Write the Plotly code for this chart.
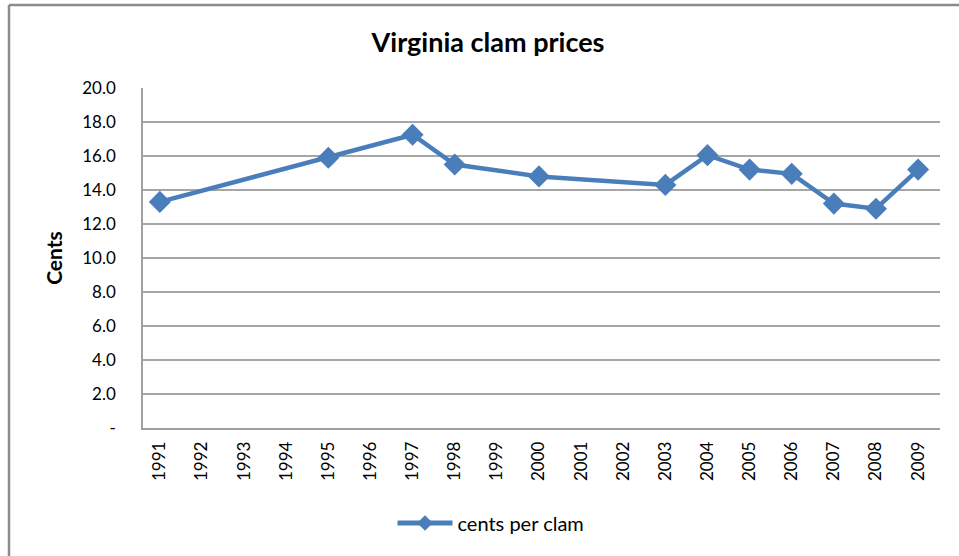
import plotly.graph_objects as go

years = [1991, 1995, 1997, 1998, 2000, 2003, 2004, 2005, 2006, 2007, 2008, 2009]
cents_per_clam = [13.3, 15.9, 17.25, 15.5, 14.8, 14.3, 16.05, 15.2, 14.95, 13.2, 12.9, 15.2]
year_ticks = list(range(1991, 2010))
y_ticks = [0, 2, 4, 6, 8, 10, 12, 14, 16, 18, 20]
y_tick_text = ["-"] + [f"{v:.1f}" for v in y_ticks[1:]]

W, H = 959, 556
L, R, T, B = 143, 19, 88, 128
pw, ph = W - L - R, H - T - B

def px(x):
    return (x - L) / pw

def py(y):
    return (H - B - y) / ph

FONT = "Lato, 'Open Sans', sans-serif"
BLUE = "#4A7EBB"

fig = go.Figure()
fig.add_trace(go.Scatter(
    x=years, y=cents_per_clam, mode="lines+markers", name="cents per clam",
    line=dict(color=BLUE, width=4.5),
    marker=dict(symbol="diamond", size=17, color=BLUE),
))

fig.update_layout(
    width=W, height=H,
    margin=dict(l=L, r=R, t=T, b=B),
    paper_bgcolor="white", plot_bgcolor="white",
    font=dict(family=FONT, color="black", size=17),
    title=dict(text="<b>Virginia clam prices</b>", x=px(488), xanchor="center", xref="paper",
               y=1 - 43 / H, yanchor="middle", font=dict(size=27, family=FONT)),
    showlegend=True,
    legend=dict(orientation="h", x=px(491), xanchor="center", y=py(523), yanchor="middle",
                font=dict(size=20), itemwidth=55, itemsizing="constant"),
    xaxis=dict(range=[1990.6, 2009.52], tickmode="array", tickvals=year_ticks,
               ticktext=[str(y) for y in year_ticks], tickangle=-90,
               showgrid=False, showline=True, linecolor="#A0A0A0", linewidth=1.5,
               ticks="", zeroline=False, tickfont=dict(size=17), ticklabelstandoff=5),
    yaxis=dict(range=[0, 20], tickmode="array", tickvals=y_ticks, ticktext=y_tick_text,
               showgrid=True, gridcolor="#A6A6A6", gridwidth=1.5,
               showline=True, linecolor="#A0A0A0", linewidth=1.5, ticks="",
               zeroline=False, tickfont=dict(size=17), ticklabelstandoff=22,
               title=dict(text="<b>Cents</b>", font=dict(size=21), standoff=14)),
)

fig.add_shape(type="line", xref="paper", yref="paper",
              x0=px(9), x1=px(9), y0=py(5), y1=py(H + 5),
              line=dict(color="#8C8C8C", width=2.5))
fig.add_shape(type="line", xref="paper", yref="paper",
              x0=px(9), x1=px(W + 5), y0=py(5), y1=py(5),
              line=dict(color="#8C8C8C", width=2.5))

fig.write_html("out.html", config={"displayModeBar": False},
               post_script="document.body.style.margin='0';document.body.style.overflow='hidden';")
